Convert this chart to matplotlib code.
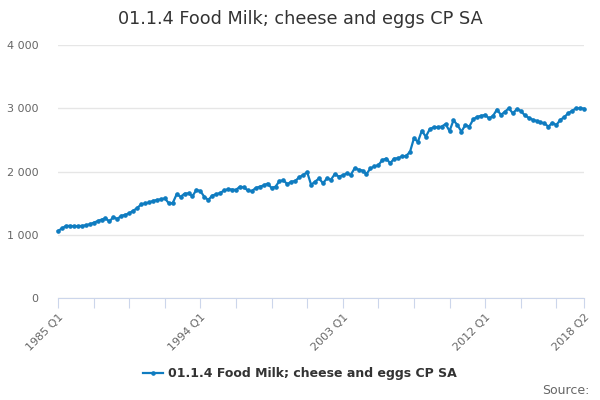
import matplotlib
matplotlib.use('Agg')
from matplotlib import pyplot as plt
from matplotlib.ticker import FuncFormatter
import numpy as np

title = '01.1.4 Food Milk; cheese and eggs CP SA'
series_name = '01.1.4 Food Milk; cheese and eggs CP SA'

# quarterly values, 1985 Q1 .. 2018 Q2
values = [
    1060, 1100, 1140, 1140, 1135, 1135, 1140, 1150, 1165, 1190,
    1215, 1240, 1260, 1210, 1280, 1250, 1300, 1315, 1340, 1380,
    1420, 1480, 1495, 1510, 1535, 1550, 1560, 1575, 1500, 1500,
    1640, 1600, 1650, 1655, 1610, 1710, 1690, 1600, 1550, 1620,
    1640, 1660, 1700, 1720, 1715, 1710, 1760, 1750, 1700, 1690,
    1740, 1760, 1780, 1810, 1740, 1760, 1850, 1860, 1800, 1840,
    1850, 1910, 1945, 1990, 1790, 1840, 1890, 1815, 1890, 1870,
    1960, 1920, 1940, 1970, 1945, 2050, 2030, 2015, 1960, 2050,
    2080, 2100, 2180, 2205, 2130, 2205, 2210, 2240, 2245, 2310,
    2525, 2470, 2645, 2550, 2670, 2700, 2700, 2710, 2750, 2640,
    2810, 2735, 2630, 2735, 2710, 2825, 2865, 2880, 2895, 2840,
    2880, 2980, 2895, 2945, 3000, 2920, 2985, 2960, 2890, 2850,
    2820, 2800, 2775, 2760, 2710, 2770, 2735, 2815, 2860, 2920,
    2960, 3000, 3000, 2995,
]
quarters = ['%d Q%d' % (1985 + i // 4, i % 4 + 1) for i in range(len(values))]
label_quarters = ['1985 Q1', '1994 Q1', '2003 Q1', '2012 Q1', '2018 Q2']
y_ticks = [0, 1000, 2000, 3000, 4000]

x = np.arange(len(values))
line_color = '#0f7cc0'
axis_color = '#ccd6eb'

fig = plt.figure(figsize=(6, 4), dpi=100)
ax = fig.add_axes([58 / 600, 102 / 400, 526 / 600, 253 / 400])

ax.plot(x, values, color=line_color, lw=1.6, marker='o', ms=2.3,
        clip_on=False, label=series_name, zorder=3)

ax.set_xlim(0, len(values) - 1)
ax.set_ylim(0, 4000)
ax.set_yticks(y_ticks)
ax.yaxis.set_major_formatter(FuncFormatter(lambda v, p: ('%d' % v) if v < 1000 else '{:,}'.format(int(v)).replace(',', ' ')))
ax.grid(axis='y', color='#e6e6e6', lw=1)
ax.set_axisbelow(True)

tick_pos = list(range(0, len(values) - 1, 9)) + [len(values) - 1]
ax.set_xticks(tick_pos)
ax.set_xticklabels([quarters[i] if quarters[i] in label_quarters else '' for i in tick_pos],
                   rotation=45, ha='right', rotation_mode='anchor')

for s in ['top', 'right', 'left']:
    ax.spines[s].set_visible(False)
ax.spines['bottom'].set_color(axis_color)
ax.tick_params(axis='x', colors=axis_color, length=7, labelcolor='#666666', labelsize=8, pad=3)
ax.tick_params(axis='y', length=0, labelcolor='#666666', labelsize=8, pad=14)

fig.text(0.5, 0.953, title, ha='center', va='center', fontsize=12.7, color='#333333')
leg = fig.legend(loc='center', bbox_to_anchor=(0.5, 0.065), frameon=False,
                 prop={'size': 9, 'weight': 'bold'}, handlelength=1.6, handletextpad=0.4)
for t in leg.get_texts():
    t.set_color('#333333')
fig.text(0.983, 0.025, 'Source:', ha='right', va='center', fontsize=9, color='#666666')

fig.savefig('out.png', dpi=100)
